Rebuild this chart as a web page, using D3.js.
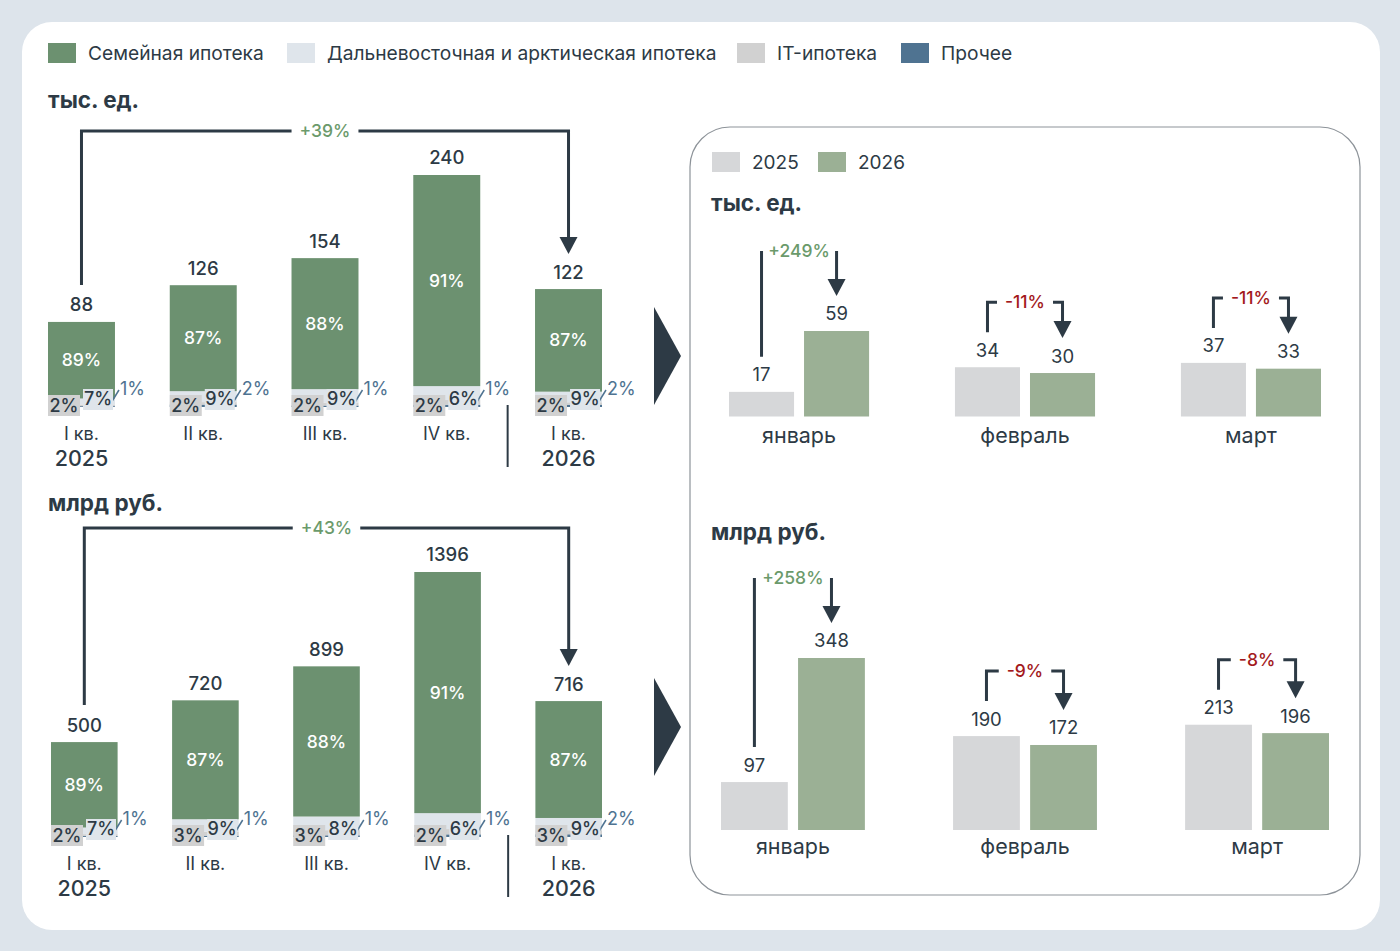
<!DOCTYPE html>
<html>
<head>
<meta charset="utf-8">
<script src="https://cdn.jsdelivr.net/npm/d3@7"></script>
<style>
  html, body { margin: 0; padding: 0; background: #dde4eb; }
  svg { display: block; }
  text { font-family: "Inter", "Noto Sans", sans-serif; fill: #2d3a45; }
</style>
</head>
<body>
<svg id="chart" width="1400" height="951"></svg>
<script>
// ---------------- DATA ----------------
const legendNames = ["Семейная ипотека", "Дальневосточная и арктическая ипотека", "IT-ипотека", "Прочее"];
const quarters = ["I кв.", "II кв.", "III кв.", "IV кв.", "I кв."];
const quarterYears = ["2025", "", "", "", "2026"];

const unitsTotal = [88, 126, 154, 240, 122];
const unitsFamily = [89, 87, 88, 91, 87];
const unitsFarEast = [7, 9, 9, 6, 9];
const unitsIT = [2, 2, 2, 2, 2];
const unitsOther = [1, 2, 1, 1, 2];
const unitsChange = "+39%";

const rubTotal = [500, 720, 899, 1396, 716];
const rubFamily = [89, 87, 88, 91, 87];
const rubFarEast = [7, 9, 8, 6, 9];
const rubIT = [2, 3, 3, 2, 3];
const rubOther = [1, 1, 1, 1, 2];
const rubChange = "+43%";

const months = ["январь", "февраль", "март"];
const yearNames = ["2025", "2026"];
const monthUnits2025 = [17, 34, 37];
const monthUnits2026 = [59, 30, 33];
const monthUnitsChange = ["+249%", "-11%", "-11%"];
const monthRub2025 = [97, 190, 213];
const monthRub2026 = [348, 172, 196];
const monthRubChange = ["+258%", "-9%", "-8%"];

const unitTitle = "тыс. ед.";
const rubTitle = "млрд руб.";

// ---------------- STYLE ----------------
const C = {
  dark: "#2d3a45",
  family: "#6c9170",
  farEast: "#dfe5eb",
  it: "#d1d1d1",
  other: "#4f7391",
  up: "#6b9a6b",
  down: "#a3191c",
  m2025: "#d6d7d9",
  m2026: "#9bb095"
};

const svg = d3.select("#chart");

// card
svg.append("rect").attr("x", 22).attr("y", 22).attr("width", 1358).attr("height", 908)
  .attr("rx", 30).attr("fill", "#ffffff");

// legend
const legendX = [48, 287, 737, 901];
const legendColors = [C.family, C.farEast, C.it, C.other];
legendNames.forEach((n, i) => {
  svg.append("rect").attr("x", legendX[i]).attr("y", 43).attr("width", 28).attr("height", 20).attr("fill", legendColors[i]);
  svg.append("text").attr("x", legendX[i] + 40).attr("y", 53).attr("dy", "0.35em")
    .style("font-size", "19.2px").text(n);
});

function arrowHead(g, x, tipY) {
  g.append("path")
    .attr("d", `M${x - 9},${tipY - 17} L${x + 9},${tipY - 17} L${x},${tipY} Z`)
    .attr("fill", C.dark);
}

function connector(g, x1, y1, x2, tipY, topY, label, color, fontSize) {
  const t = g.append("text").attr("x", (x1 + x2) / 2).attr("y", topY).attr("dy", "0.35em")
    .attr("text-anchor", "middle").style("font-size", fontSize + "px").style("fill", color)
    .style("font-weight", 500).text(label);
  const w = t.node().getComputedTextLength();
  const gap = 8;
  const lx = Math.max(x1, (x1 + x2) / 2 - w / 2 - gap);
  const rx = Math.min(x2, (x1 + x2) / 2 + w / 2 + gap);
  g.append("path")
    .attr("d", `M${x1},${y1} V${topY} H${lx} M${rx},${topY} H${x2} V${tipY - 14}`)
    .attr("fill", "none").attr("stroke", C.dark).attr("stroke-width", 3);
  arrowHead(g, x2, tipY);
}

// ---------------- QUARTER CHARTS ----------------
function quarterChart(cfg) {
  const g = svg.append("g");
  const n = cfg.total.length;
  const x = d3.scaleBand().domain(d3.range(n)).range([cfg.x0, cfg.x1]).paddingInner(0.45).paddingOuter(0);
  const y = d3.scaleLinear().domain([0, d3.max(cfg.total)]).range([cfg.base, cfg.top]);
  const bw = x.bandwidth();

  g.append("text").attr("x", 48).attr("y", cfg.titleY).attr("dy", "0.35em")
    .style("font-size", "22.5px").style("font-weight", 700).text(cfg.title);

  const rows = cfg.total.map((t, i) => {
    const o = t * cfg.other[i] / 100, it = t * cfg.it[i] / 100, fe = t * cfg.fe[i] / 100;
    return { i, t, segs: [
      { c: C.other, a: 0, b: o },
      { c: C.it, a: o, b: o + it },
      { c: C.farEast, a: o + it, b: o + it + fe },
      { c: C.family, a: o + it + fe, b: t }
    ]};
  });

  rows.forEach(r => {
    const bx = x(r.i);
    r.segs.forEach(s => {
      g.append("rect").attr("x", bx).attr("width", bw)
        .attr("y", y(s.b)).attr("height", Math.max(0, y(s.a) - y(s.b))).attr("fill", s.c);
    });
    const fam = r.segs[3];
    g.append("text").attr("x", bx + bw / 2).attr("y", (y(fam.a) + y(fam.b)) / 2).attr("dy", "0.35em")
      .attr("text-anchor", "middle").style("fill", "#ffffff").style("font-size", "17.5px").style("font-weight", 500)
      .text(cfg.fam[r.i] + "%");
    g.append("text").attr("x", bx + bw / 2).attr("y", y(r.t) - 17).attr("dy", "0.35em")
      .attr("text-anchor", "middle").style("font-size", "18.5px").style("font-weight", 500).text(r.t);
    const B = cfg.base;
    g.append("line").attr("x1", bx + bw - 4).attr("y1", B - 4).attr("x2", bx + bw + 4).attr("y2", B - 17)
      .attr("stroke", C.other).attr("stroke-width", 1.5);
    g.append("rect").attr("x", bx + 35).attr("y", B - 18).attr("width", 30).attr("height", 21).attr("fill", C.farEast);
    g.append("text").attr("x", bx + 50).attr("y", B - 8).attr("dy", "0.35em").attr("text-anchor", "middle")
      .style("font-size", "18px").style("font-weight", 500).text(cfg.fe[r.i] + "%");
    g.append("rect").attr("x", bx).attr("y", B - 12).attr("width", 32).attr("height", 21).attr("fill", C.it);
    g.append("text").attr("x", bx + 16).attr("y", B - 1).attr("dy", "0.35em").attr("text-anchor", "middle")
      .style("font-size", "18px").style("font-weight", 500).text(cfg.it[r.i] + "%");
    g.append("text").attr("x", bx + bw + 5).attr("y", B - 18).attr("dy", "0.35em")
      .style("font-size", "18px").style("fill", C.other).text(cfg.other[r.i] + "%");
    g.append("text").attr("x", bx + bw / 2).attr("y", B + 27).attr("dy", "0.35em").attr("text-anchor", "middle")
      .style("font-size", "18px").text(quarters[r.i]);
    if (quarterYears[r.i]) {
      g.append("text").attr("x", bx + bw / 2).attr("y", B + 51).attr("dy", "0.35em").attr("text-anchor", "middle")
        .style("font-size", "21.5px").style("font-weight", 500).text(quarterYears[r.i]);
    }
  });

  const sepX = (x(3) + bw + x(4)) / 2;
  g.append("line").attr("x1", sepX).attr("x2", sepX).attr("y1", cfg.base - 2).attr("y2", cfg.base + 60)
    .attr("stroke", C.dark).attr("stroke-width", 2);

  const first = rows[0], last = rows[n - 1];
  const topY = y(d3.max(cfg.total)) - 17 - 27;
  connector(g, x(0) + bw / 2, y(first.t) - 37, x(n - 1) + bw / 2, y(last.t) - 35, topY, cfg.change, C.up, 17.5);

  const cy = cfg.arrowY;
  g.append("path").attr("d", `M654,${cy - 49} L681,${cy} L654,${cy + 49} Z`).attr("fill", C.dark);
}

quarterChart({ title: unitTitle, titleY: 100, total: unitsTotal, fam: unitsFamily, fe: unitsFarEast, it: unitsIT,
  other: unitsOther, change: unitsChange, x0: 48, x1: 602, base: 407, top: 175, arrowY: 356 });
quarterChart({ title: rubTitle, titleY: 503, total: rubTotal, fam: rubFamily, fe: rubFarEast, it: rubIT,
  other: rubOther, change: rubChange, x0: 51, x1: 602, base: 837, top: 572, arrowY: 727 });

// ---------------- RIGHT PANEL ----------------
svg.append("rect").attr("x", 690).attr("y", 127).attr("width", 670).attr("height", 768).attr("rx", 40)
  .attr("fill", "none").attr("stroke", "#8d9399").attr("stroke-width", 1.2);

[[712, C.m2025, yearNames[0]], [818, C.m2026, yearNames[1]]].forEach(([lx, c, t]) => {
  svg.append("rect").attr("x", lx).attr("y", 152).attr("width", 28).attr("height", 20).attr("fill", c);
  svg.append("text").attr("x", lx + 40).attr("y", 162).attr("dy", "0.35em").style("font-size", "19px").text(t);
});

function monthChart(cfg) {
  const g = svg.append("g");
  g.append("text").attr("x", 711).attr("y", cfg.titleY).attr("dy", "0.35em")
    .style("font-size", "22.5px").style("font-weight", 700).text(cfg.title);
  const x0 = d3.scaleBand().domain(months).range([cfg.x0, cfg.x1]).paddingInner(0.38).paddingOuter(0);
  const x1 = d3.scaleBand().domain(yearNames).range([0, x0.bandwidth()]).paddingInner(0.133).paddingOuter(0);
  const y = d3.scaleLinear().domain([0, cfg.max]).range([cfg.base, cfg.top]);
  months.forEach((m, i) => {
    const vals = [cfg.a[i], cfg.b[i]];
    const cols = [C.m2025, C.m2026];
    const labelYs = [];
    const cx = [];
    vals.forEach((v, j) => {
      const bx = x0(m) + x1(yearNames[j]);
      g.append("rect").attr("x", bx).attr("width", x1.bandwidth()).attr("y", y(v))
        .attr("height", cfg.base - y(v)).attr("fill", cols[j]);
      const ly = y(v) - 17;
      labelYs.push(ly); cx.push(bx + x1.bandwidth() / 2);
      g.append("text").attr("x", bx + x1.bandwidth() / 2).attr("y", ly).attr("dy", "0.35em")
        .attr("text-anchor", "middle").style("font-size", "18.5px").text(v);
    });
    g.append("text").attr("x", x0(m) + x0.bandwidth() / 2).attr("y", cfg.base + cfg.catGap).attr("dy", "0.35em")
      .attr("text-anchor", "middle").style("font-size", "21.5px").text(m);
    const up = cfg.b[i] > cfg.a[i];
    const big = (labelYs[0] - labelYs[1]) > 30;
    const topY = Math.min(labelYs[0], labelYs[1]) - 48 - (big ? 15 : 0);
    connector(g, cx[0], labelYs[0] - 18, cx[1], labelYs[1] - 18, topY, cfg.change[i], up ? C.up : C.down, 17.5);
  });
}

monthChart({ title: unitTitle, titleY: 203, a: monthUnits2025, b: monthUnits2026, change: monthUnitsChange,
  x0: 729, x1: 1321, base: 416.5, top: 331, max: 59, catGap: 19 });
monthChart({ title: rubTitle, titleY: 532, a: monthRub2025, b: monthRub2026, change: monthRubChange,
  x0: 721, x1: 1329, base: 830, top: 658, max: 348, catGap: 16 });
</script>
</body>
</html>
